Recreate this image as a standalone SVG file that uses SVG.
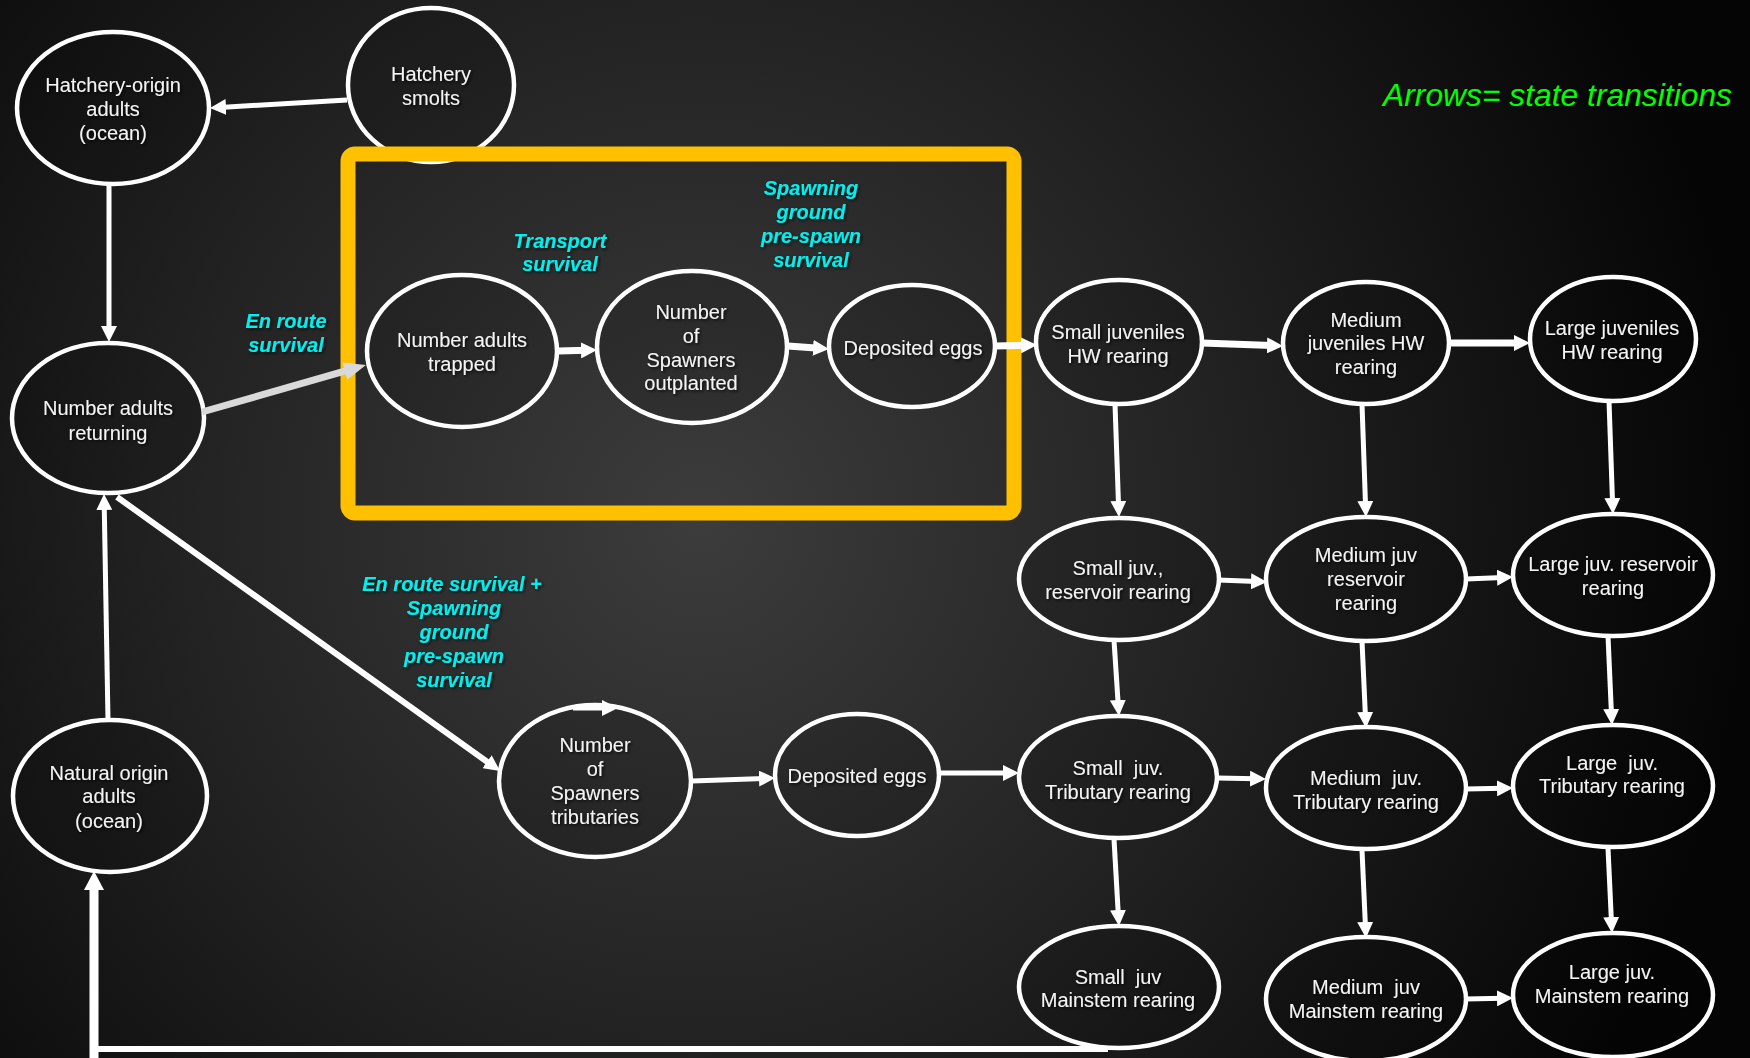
<svg xmlns="http://www.w3.org/2000/svg" width="1750" height="1058" viewBox="0 0 1750 1058">
<defs>
  <radialGradient id="bg" gradientUnits="userSpaceOnUse" cx="700" cy="520" r="1050">
    <stop offset="0" stop-color="#3c3c3c"/>
    <stop offset="0.5" stop-color="#222222"/>
    <stop offset="1" stop-color="#050505"/>
  </radialGradient>
  <filter id="sh" x="-10%" y="-30%" width="120%" height="160%">
    <feDropShadow dx="1.5" dy="1.5" stdDeviation="1.5" flood-color="#000" flood-opacity="0.8"/>
  </filter>
  <marker id="ah" viewBox="0 0 16 16" markerUnits="userSpaceOnUse" markerWidth="16" markerHeight="16" refX="6" refY="8" orient="auto">
    <path d="M0,0 L16,8 L0,16 z" fill="#ffffff"/>
  </marker>
  <marker id="ahg" viewBox="0 0 22 18" markerUnits="userSpaceOnUse" markerWidth="22" markerHeight="18" refX="8" refY="9" orient="auto">
    <path d="M0,0 L22,9 L0,18 z" fill="#d9d9d9"/>
  </marker>
  <style>
    .node ellipse { fill: #000; fill-opacity: 0.12; stroke: #ffffff; stroke-width: 4.5; }
    .node text { font-family: "Liberation Sans", Arial, sans-serif; font-size: 20px; fill: #f4f4f4; text-anchor: middle; white-space: pre; filter: url(#sh); }
    .lbl { font-family: "Liberation Sans", Arial, sans-serif; font-size: 20px; font-weight: bold; font-style: italic; fill: #00f0f0; text-anchor: middle; filter: url(#sh); }
    .conn line, .conn path { stroke: #ffffff; stroke-width: 5; fill: none; marker-end: url(#ah); }
    .conn .thick { stroke-width: 7; }
    .conn .grey { stroke: #d9d9d9; stroke-width: 7; marker-end: url(#ahg); }
  </style>
</defs>

<rect x="0" y="0" width="1750" height="1058" fill="url(#bg)"/>

<g id="hatchery-smolts" class="node">
  <ellipse cx="431" cy="85" rx="83" ry="77"/>
  <text x="431" y="81">Hatchery</text>
  <text x="431" y="105">smolts</text>
</g>

<rect id="highlight-box" x="348" y="154" width="666" height="359" rx="7" fill="none" stroke="#ffc000" stroke-width="15"/>

<g id="hatchery-origin-adults" class="node">
  <ellipse cx="113" cy="108" rx="96" ry="76"/>
  <text x="113" y="92">Hatchery-origin</text>
  <text x="113" y="116">adults</text>
  <text x="113" y="140">(ocean)</text>
</g>

<g id="number-adults-returning" class="node">
  <ellipse cx="108" cy="418" rx="96" ry="75"/>
  <text x="108" y="415">Number adults</text>
  <text x="108" y="440">returning</text>
</g>

<g id="natural-origin-adults" class="node">
  <ellipse cx="110" cy="796" rx="97" ry="76"/>
  <text x="109" y="780">Natural origin</text>
  <text x="109" y="803">adults</text>
  <text x="109" y="828">(ocean)</text>
</g>

<g id="number-adults-trapped" class="node">
  <ellipse cx="462" cy="351" rx="95" ry="76"/>
  <text x="462" y="347">Number adults</text>
  <text x="462" y="371">trapped</text>
</g>

<g id="spawners-outplanted" class="node">
  <ellipse cx="692" cy="347" rx="95" ry="76"/>
  <text x="691" y="319">Number</text>
  <text x="691" y="343">of</text>
  <text x="691" y="367">Spawners</text>
  <text x="691" y="390">outplanted</text>
</g>

<g id="deposited-eggs-1" class="node">
  <ellipse cx="912" cy="346" rx="83" ry="61"/>
  <text x="913" y="355">Deposited eggs</text>
</g>

<g id="spawners-tributaries" class="node">
  <ellipse cx="595" cy="781" rx="96" ry="76"/>
  <text x="595" y="752">Number</text>
  <text x="595" y="776">of</text>
  <text x="595" y="800">Spawners</text>
  <text x="595" y="824">tributaries</text>
</g>

<g id="deposited-eggs-2" class="node">
  <ellipse cx="857" cy="775" rx="82" ry="61"/>
  <text x="857" y="783">Deposited eggs</text>
</g>

<g id="small-hw" class="node">
  <ellipse cx="1119" cy="342" rx="83" ry="62"/>
  <text x="1118" y="339">Small juveniles</text>
  <text x="1118" y="363">HW rearing</text>
</g>

<g id="medium-hw" class="node">
  <ellipse cx="1366" cy="343" rx="83" ry="61"/>
  <text x="1366" y="327">Medium</text>
  <text x="1366" y="350">juveniles HW</text>
  <text x="1366" y="374">rearing</text>
</g>

<g id="large-hw" class="node">
  <ellipse cx="1613" cy="339" rx="83" ry="62"/>
  <text x="1612" y="335">Large juveniles</text>
  <text x="1612" y="359">HW rearing</text>
</g>

<g id="small-reservoir" class="node">
  <ellipse cx="1119" cy="579" rx="100" ry="61"/>
  <text x="1118" y="575">Small juv.,</text>
  <text x="1118" y="599">reservoir rearing</text>
</g>

<g id="medium-reservoir" class="node">
  <ellipse cx="1366" cy="579" rx="100" ry="62"/>
  <text x="1366" y="562">Medium juv</text>
  <text x="1366" y="586">reservoir</text>
  <text x="1366" y="610">rearing</text>
</g>

<g id="large-reservoir" class="node">
  <ellipse cx="1613" cy="575" rx="100" ry="61"/>
  <text x="1613" y="571">Large juv. reservoir</text>
  <text x="1613" y="595">rearing</text>
</g>

<g id="small-tributary" class="node">
  <ellipse cx="1118" cy="777" rx="99" ry="61"/>
  <text x="1118" y="775">Small  juv.</text>
  <text x="1118" y="799">Tributary rearing</text>
</g>

<g id="medium-tributary" class="node">
  <ellipse cx="1366" cy="788" rx="100" ry="61"/>
  <text x="1366" y="785">Medium  juv.</text>
  <text x="1366" y="809">Tributary rearing</text>
</g>

<g id="large-tributary" class="node">
  <ellipse cx="1613" cy="786" rx="100" ry="61"/>
  <text x="1612" y="770">Large  juv.</text>
  <text x="1612" y="793">Tributary rearing</text>
</g>

<g id="small-mainstem" class="node">
  <ellipse cx="1119" cy="987" rx="100" ry="61"/>
  <text x="1118" y="984">Small  juv</text>
  <text x="1118" y="1007">Mainstem rearing</text>
</g>

<g id="medium-mainstem" class="node">
  <ellipse cx="1366" cy="999" rx="100" ry="62"/>
  <text x="1366" y="994">Medium  juv</text>
  <text x="1366" y="1018">Mainstem rearing</text>
</g>

<g id="large-mainstem" class="node">
  <ellipse cx="1613" cy="995" rx="100" ry="62"/>
  <text x="1612" y="979">Large juv.</text>
  <text x="1612" y="1003">Mainstem rearing</text>
</g>

<g id="connectors" class="conn">
  <line x1="347" y1="100" x2="220" y2="107.4"/>
  <line x1="109" y1="184" x2="109" y2="332"/>
  <line class="grey" x1="202" y1="412" x2="352.5" y2="368.9"/>
  <line class="thick" x1="558" y1="351" x2="587" y2="350.3"/>
  <line class="thick" x1="788" y1="346" x2="819" y2="348.3"/>
  <line class="thick" x1="995" y1="346" x2="1027" y2="345.2"/>
  <line class="thick" x1="1202" y1="343" x2="1273" y2="345.6"/>
  <line class="thick" x1="1449" y1="343" x2="1520" y2="343"/>
  <line x1="1115" y1="404" x2="1118.6" y2="507"/>
  <line x1="1362" y1="404" x2="1365.6" y2="507"/>
  <line x1="1609" y1="401" x2="1612.6" y2="504"/>
  <line x1="1218" y1="580" x2="1257" y2="581.6"/>
  <line x1="1466" y1="579" x2="1503" y2="577.4"/>
  <line x1="1114" y1="640" x2="1118.3" y2="706"/>
  <line x1="1362" y1="641" x2="1365.5" y2="718"/>
  <line x1="1608" y1="636" x2="1611.5" y2="715"/>
  <line x1="1217" y1="778" x2="1256" y2="778.8"/>
  <line x1="1466" y1="789" x2="1503" y2="788.2"/>
  <line x1="1114" y1="839" x2="1118.4" y2="916"/>
  <line x1="1362" y1="850" x2="1365.5" y2="928"/>
  <line x1="1608" y1="848" x2="1611.5" y2="923"/>
  <line x1="1466" y1="999" x2="1503" y2="998.2"/>
  <line x1="939" y1="773" x2="1009" y2="773"/>
  <line x1="692" y1="781" x2="765" y2="778.4"/>
  <line x1="117" y1="497" x2="491.9" y2="765.2" style="stroke-width:6"/>
  <line x1="108" y1="720" x2="104.2" y2="504"/>
  <line x1="573" y1="708" x2="608" y2="708"/>
  <path d="M1108,1049 L94,1049 L94,1062" style="stroke-width:6;marker-end:none"/>
  <path d="M94,1062 L94,886" style="stroke-width:9;marker-end:none"/>
  <polygon points="84,890 94,871 104,890" fill="#ffffff"/>
</g>

<g id="labels">
  <text class="lbl" x="286" y="328">En route</text>
  <text class="lbl" x="286" y="352">survival</text>
  <text class="lbl" x="560" y="248">Transport</text>
  <text class="lbl" x="560" y="271">survival</text>
  <text class="lbl" x="811" y="195">Spawning</text>
  <text class="lbl" x="811" y="219">ground</text>
  <text class="lbl" x="811" y="243">pre-spawn</text>
  <text class="lbl" x="811" y="267">survival</text>
  <text class="lbl" x="452" y="591">En route survival +</text>
  <text class="lbl" x="454" y="615">Spawning</text>
  <text class="lbl" x="454" y="639">ground</text>
  <text class="lbl" x="454" y="663">pre-spawn</text>
  <text class="lbl" x="454" y="687">survival</text>
  <text x="1732" y="106" text-anchor="end" font-family="Liberation Sans, Arial, sans-serif" font-style="italic" font-size="31" fill="#00ff00" textLength="349" lengthAdjust="spacingAndGlyphs">Arrows= state transitions</text>
</g>
</svg>
